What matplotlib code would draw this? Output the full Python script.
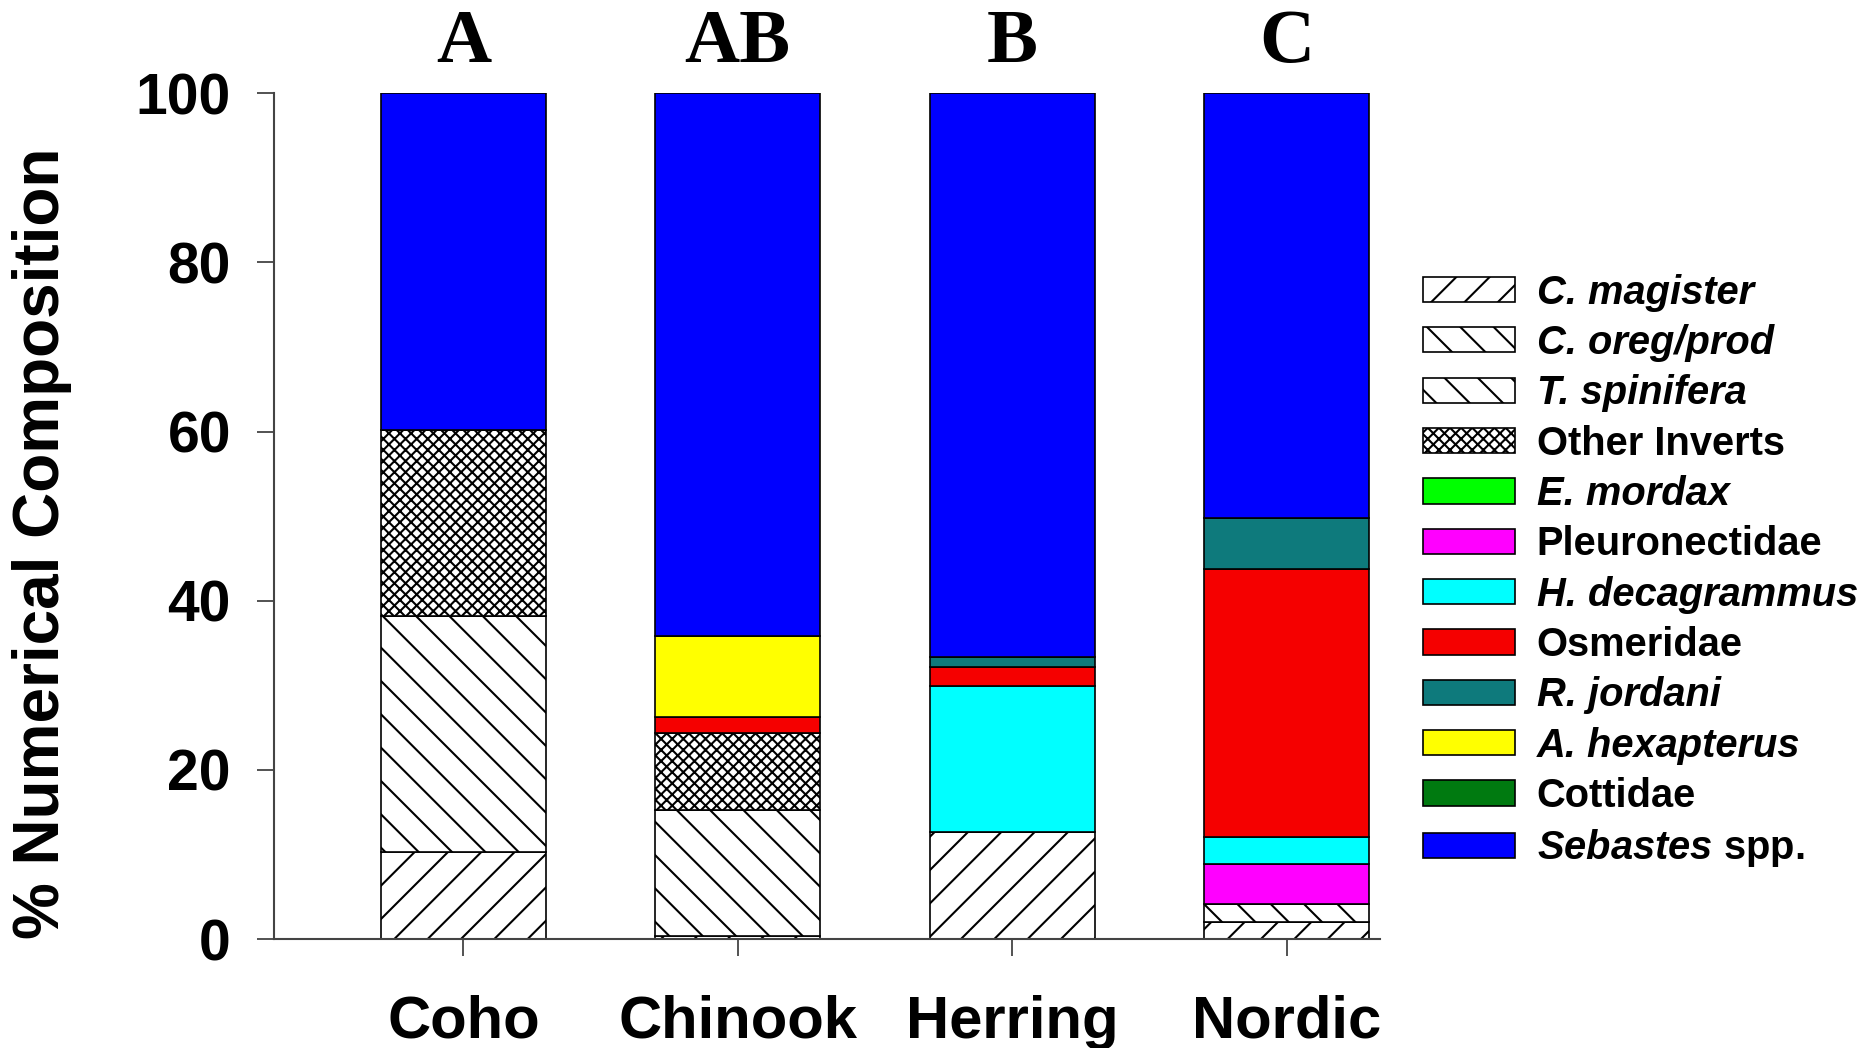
import matplotlib
matplotlib.use("Agg")
import matplotlib.pyplot as plt
from matplotlib import font_manager
from matplotlib.transforms import blended_transform_factory

# --- data -------------------------------------------------------------
groups = ["Coho", "Chinook", "Herring", "Nordic"]
group_letters = ["A", "AB", "B", "C"]

c_magister = [10.3, 0.3, 12.6, 2.0]
c_oreg_prod = [27.9, 14.9, 0.0, 0.0]
t_spinifera = [0.0, 0.0, 0.0, 2.1]
other_inverts = [22.0, 9.2, 0.0, 0.0]
e_mordax = [0.0, 0.0, 0.0, 0.0]
pleuronectidae = [0.0, 0.0, 0.0, 4.8]
h_decagrammus = [0.0, 0.0, 17.3, 3.2]
osmeridae = [0.0, 1.8, 2.3, 31.6]
r_jordani = [0.0, 0.0, 1.1, 6.1]
a_hexapterus = [0.0, 9.6, 0.0, 0.0]
cottidae = [0.0, 0.0, 0.0, 0.0]
sebastes = [39.8, 64.2, 66.7, 50.2]

y_ticks = [0, 20, 40, 60, 80, 100]

# --- styling per taxon (stack order, bottom to top) --------------------
taxa = [
    ("C. magister", c_magister, "white", "/", "italic"),
    ("C. oreg/prod", c_oreg_prod, "white", "\\", "italic"),
    ("T. spinifera", t_spinifera, "white", "\\", "italic"),
    ("Other Inverts", other_inverts, "white", "xxx", "normal"),
    ("E. mordax", e_mordax, "#00ff00", None, "italic"),
    ("Pleuronectidae", pleuronectidae, "#ff00ff", None, "normal"),
    ("H. decagrammus", h_decagrammus, "#00ffff", None, "italic"),
    ("Osmeridae", osmeridae, "#f50000", None, "normal"),
    ("R. jordani", r_jordani, "#0e7a7c", None, "italic"),
    ("A. hexapterus", a_hexapterus, "#ffff00", None, "italic"),
    ("Cottidae", cottidae, "#007a10", None, "normal"),
    (r"$\mathit{Sebastes}$ spp.", sebastes, "#0000ff", None, "normal"),
]

available = {f.name for f in font_manager.fontManager.ttflist}
sans = "Liberation Sans" if "Liberation Sans" in available else "DejaVu Sans"
serif = "Liberation Serif" if "Liberation Serif" in available else "DejaVu Serif"

plt.rcParams["font.family"] = [sans, "DejaVu Sans"]
plt.rcParams["font.weight"] = "bold"
plt.rcParams["mathtext.fontset"] = "custom"
plt.rcParams["mathtext.it"] = f"{sans}:italic:bold"
plt.rcParams["mathtext.rm"] = f"{sans}:bold"
plt.rcParams["hatch.linewidth"] = 1.5
plt.rcParams["hatch.color"] = "black"

fig = plt.figure(figsize=(18.7, 10.48), dpi=100)
ax = fig.add_axes([0.1465, 0.104, 0.5915, 0.807])

x = list(range(len(groups)))
bottom = [0.0] * len(groups)
handles = []
for label, vals, color, hatch, style in taxa:
    bars = ax.bar(x, vals, width=0.6, bottom=bottom, color=color,
                  edgecolor="black", linewidth=1.2, hatch=hatch,
                  label=label, zorder=2)
    handles.append(bars)
    bottom = [b + v for b, v in zip(bottom, vals)]

ax.set_xlim(-0.69, 3.34)
ax.set_ylim(0, 100)
ax.set_yticks(y_ticks)
ax.set_yticklabels([str(t) for t in y_ticks])
ax.set_xticks(x)
ax.set_xticklabels(groups)

for side in ("top", "right"):
    ax.spines[side].set_visible(False)
for side in ("left", "bottom"):
    ax.spines[side].set_color("#444444")
    ax.spines[side].set_linewidth(1.5)

ax.tick_params(axis="y", length=12, width=1.3, color="#444444",
               labelsize=41, pad=19)
ax.tick_params(axis="x", length=12, width=1.3, color="#444444",
               labelsize=43, pad=28)
for t in ax.get_yticklabels() + ax.get_xticklabels():
    t.set_fontweight("bold")

ax.set_ylabel("% Numerical Composition", fontsize=46, fontweight="bold")
ax.yaxis.set_label_coords(-0.183, 0.468)

# significance letters above each bar
trans = blended_transform_factory(ax.transData, ax.transAxes)
for xi, letter in zip(x, group_letters):
    ax.text(xi, 1.059, letter, transform=trans, ha="center", va="center",
            fontsize=55, fontweight="bold", family=[serif, "DejaVu Serif"])

leg = fig.legend(handles=handles, loc="upper left",
                 bbox_to_anchor=(0.761, 0.739), frameon=False,
                 prop={"size": 28.7, "weight": "bold"},
                 handlelength=2.3, handleheight=0.6, handletextpad=0.55,
                 labelspacing=0.31, borderpad=0, borderaxespad=0)
for txt, (_, _, _, _, style) in zip(leg.get_texts(), taxa):
    txt.set_fontstyle(style)
for patch in leg.get_patches():
    patch.set_linewidth(1.2)

fig.savefig("out.png", dpi=100)
